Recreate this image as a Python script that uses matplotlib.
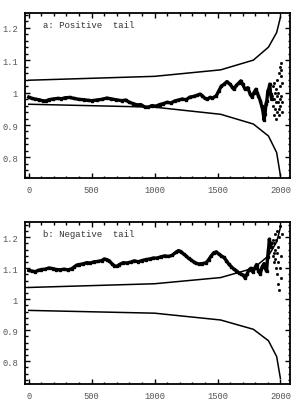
import matplotlib
matplotlib.use("Agg")
import matplotlib.pyplot as plt
from matplotlib.ticker import MultipleLocator, FixedLocator, FixedFormatter

# ── confidence band (same in both panels) ─────────────────────────────────────
band_n = [0, 1000, 1525, 1785, 1905, 1970, 2000]
band_upper = [1.038, 1.050, 1.070, 1.100, 1.140, 1.185, 1.232]
band_lower = [0.964, 0.955, 0.933, 0.903, 0.866, 0.815, 0.744]

# ── panel a: positive tail ────────────────────────────────────────────────────
pos_n = [0, 25, 50, 80, 110, 135, 160, 190, 230, 260, 290, 325, 360, 400, 440,
         470, 500, 540, 580, 620, 650, 690, 740, 770, 800, 830, 860, 890, 920,
         950, 980, 1010, 1040, 1070, 1100, 1130, 1160, 1190, 1220, 1250, 1280,
         1310, 1340, 1360, 1380, 1400, 1420, 1440, 1460, 1490, 1510, 1530, 1550,
         1575, 1600, 1615, 1630, 1650, 1670, 1685, 1700, 1720, 1740, 1760, 1775,
         1790, 1805, 1815, 1825, 1840, 1850, 1860, 1870, 1878, 1885, 1892, 1900,
         1908, 1915, 1922, 1930]
pos_v = [0.986, 0.982, 0.980, 0.978, 0.975, 0.974, 0.978, 0.980, 0.982, 0.981,
         0.984, 0.985, 0.982, 0.979, 0.978, 0.976, 0.975, 0.977, 0.979, 0.983,
         0.981, 0.978, 0.975, 0.977, 0.970, 0.966, 0.962, 0.963, 0.956, 0.955,
         0.960, 0.958, 0.963, 0.966, 0.970, 0.968, 0.974, 0.977, 0.980, 0.978,
         0.986, 0.988, 0.992, 0.995, 0.990, 0.982, 0.980, 0.985, 0.983, 0.990,
         1.005, 1.020, 1.025, 1.034, 1.025, 1.018, 1.010, 1.022, 1.030, 1.036,
         1.025, 1.010, 1.015, 0.995, 0.986, 1.000, 1.010, 1.000, 0.990, 0.975,
         0.960, 0.945, 0.915, 0.935, 0.965, 0.975, 1.005, 1.012, 1.026, 0.995,
         0.980]
pos_tail_n = [1935, 1938, 1942, 1946, 1949, 1952, 1955, 1958, 1961, 1964, 1967,
              1970, 1973, 1976, 1979, 1982, 1985, 1988, 1990, 1993, 1995, 1998,
              2000, 2002, 2004, 2006, 2008, 2010, 2012, 2014]
pos_tail_v = [0.99, 1.02, 0.96, 1.03, 0.93, 0.98, 1.00, 0.95, 1.01, 0.97, 0.92,
              0.99, 1.04, 0.94, 0.97, 1.00, 1.06, 0.95, 0.93, 1.02, 0.98, 1.08,
              0.96, 1.05, 1.09, 0.99, 1.07, 0.94, 1.03, 0.97]

# ── panel b: negative tail ────────────────────────────────────────────────────
neg_n = [0, 25, 50, 75, 100, 130, 160, 190, 220, 250, 280, 310, 340, 360, 380,
         400, 430, 460, 490, 520, 550, 580, 600, 620, 640, 660, 680, 700, 720,
         750, 780, 810, 840, 870, 900, 930, 960, 990, 1020, 1050, 1080, 1110,
         1140, 1170, 1190, 1210, 1230, 1250, 1270, 1290, 1310, 1330, 1350, 1380,
         1410, 1430, 1450, 1470, 1490, 1510, 1530, 1550, 1570, 1590, 1610, 1630,
         1650, 1670, 1690, 1705, 1720, 1735, 1750, 1765, 1780, 1795, 1810, 1825,
         1840, 1855, 1870, 1880, 1890, 1898, 1905, 1912, 1920, 1928]
neg_v = [1.093, 1.091, 1.089, 1.093, 1.096, 1.097, 1.101, 1.099, 1.096, 1.095,
         1.097, 1.095, 1.098, 1.104, 1.110, 1.112, 1.114, 1.118, 1.117, 1.121,
         1.122, 1.125, 1.130, 1.128, 1.124, 1.115, 1.108, 1.106, 1.112, 1.118,
         1.117, 1.120, 1.124, 1.121, 1.125, 1.128, 1.130, 1.133, 1.133, 1.137,
         1.140, 1.138, 1.142, 1.152, 1.157, 1.154, 1.146, 1.140, 1.132, 1.127,
         1.121, 1.116, 1.114, 1.115, 1.118, 1.128, 1.140, 1.150, 1.153, 1.146,
         1.140, 1.135, 1.125, 1.113, 1.105, 1.097, 1.092, 1.085, 1.080, 1.078,
         1.068, 1.082, 1.095, 1.100, 1.088, 1.100, 1.112, 1.092, 1.082, 1.105,
         1.115, 1.100, 1.090, 1.135, 1.160, 1.194, 1.168, 1.180]
neg_tail_n = [1935, 1938, 1942, 1945, 1948, 1951, 1954, 1957, 1960, 1963, 1966,
              1969, 1972, 1975, 1978, 1981, 1984, 1987, 1990, 1994, 1998, 2002,
              2006, 2010]
neg_tail_v = [1.17, 1.14, 1.19, 1.15, 1.12, 1.18, 1.16, 1.21, 1.13, 1.10, 1.19,
              1.15, 1.08, 1.22, 1.12, 1.05, 1.17, 1.03, 1.20, 1.10, 1.235, 1.14,
              1.07, 1.21]

y_ticks = [0.8, 0.9, 1.0, 1.1, 1.2]
y_labels = ["0.8", "0.9", "1", "1.1", "1.2"]
x_ticks = [0, 500, 1000, 1500, 2000]

MONO = "Liberation Mono"
LABEL_GREY = "#555555"

fig = plt.figure(figsize=(2.97, 4.02), dpi=100)
ax_a = fig.add_axes([0.084, 0.555, 0.892, 0.41])
ax_b = fig.add_axes([0.084, 0.042, 0.892, 0.403])

panels = [
    (ax_a, pos_n, pos_v, pos_tail_n, pos_tail_v, "a: Positive  tail", (0.737, 1.245)),
    (ax_b, neg_n, neg_v, neg_tail_n, neg_tail_v, "b: Negative  tail", (0.726, 1.249)),
]

for ax, n, v, tn, tv, title, ylim in panels:
    ax.plot(band_n, band_upper, color="black", lw=1.1)
    ax.plot(band_n, band_lower, color="black", lw=1.1)
    ax.plot(n, v, color="black", lw=2.4, marker="s", ms=2.0)
    ax.plot(tn, tv, ls="none", color="black", marker="s", ms=1.0)

    ax.set_xlim(-30, 2075)
    ax.set_ylim(*ylim)
    ax.yaxis.set_major_locator(FixedLocator(y_ticks))
    ax.yaxis.set_major_formatter(FixedFormatter(y_labels))
    ax.yaxis.set_minor_locator(MultipleLocator(0.02))
    ax.xaxis.set_major_locator(FixedLocator(x_ticks))
    ax.xaxis.set_minor_locator(MultipleLocator(100))
    ax.tick_params(which="both", direction="in", top=True, right=True,
                   width=1.0, color="black")
    ax.tick_params(which="major", length=3.5, labelsize=6.3,
                   labelcolor=LABEL_GREY, pad=5)
    ax.tick_params(which="minor", length=1.8)
    for lab in ax.get_xticklabels() + ax.get_yticklabels():
        lab.set_fontfamily(MONO)
    for spine in ax.spines.values():
        spine.set_linewidth(1.3)

    ax.text(0.07, 0.93, title, transform=ax.transAxes, family=MONO,
            fontsize=6.5, color="#333333", ha="left", va="center")

fig.savefig("out.png", dpi=100)
